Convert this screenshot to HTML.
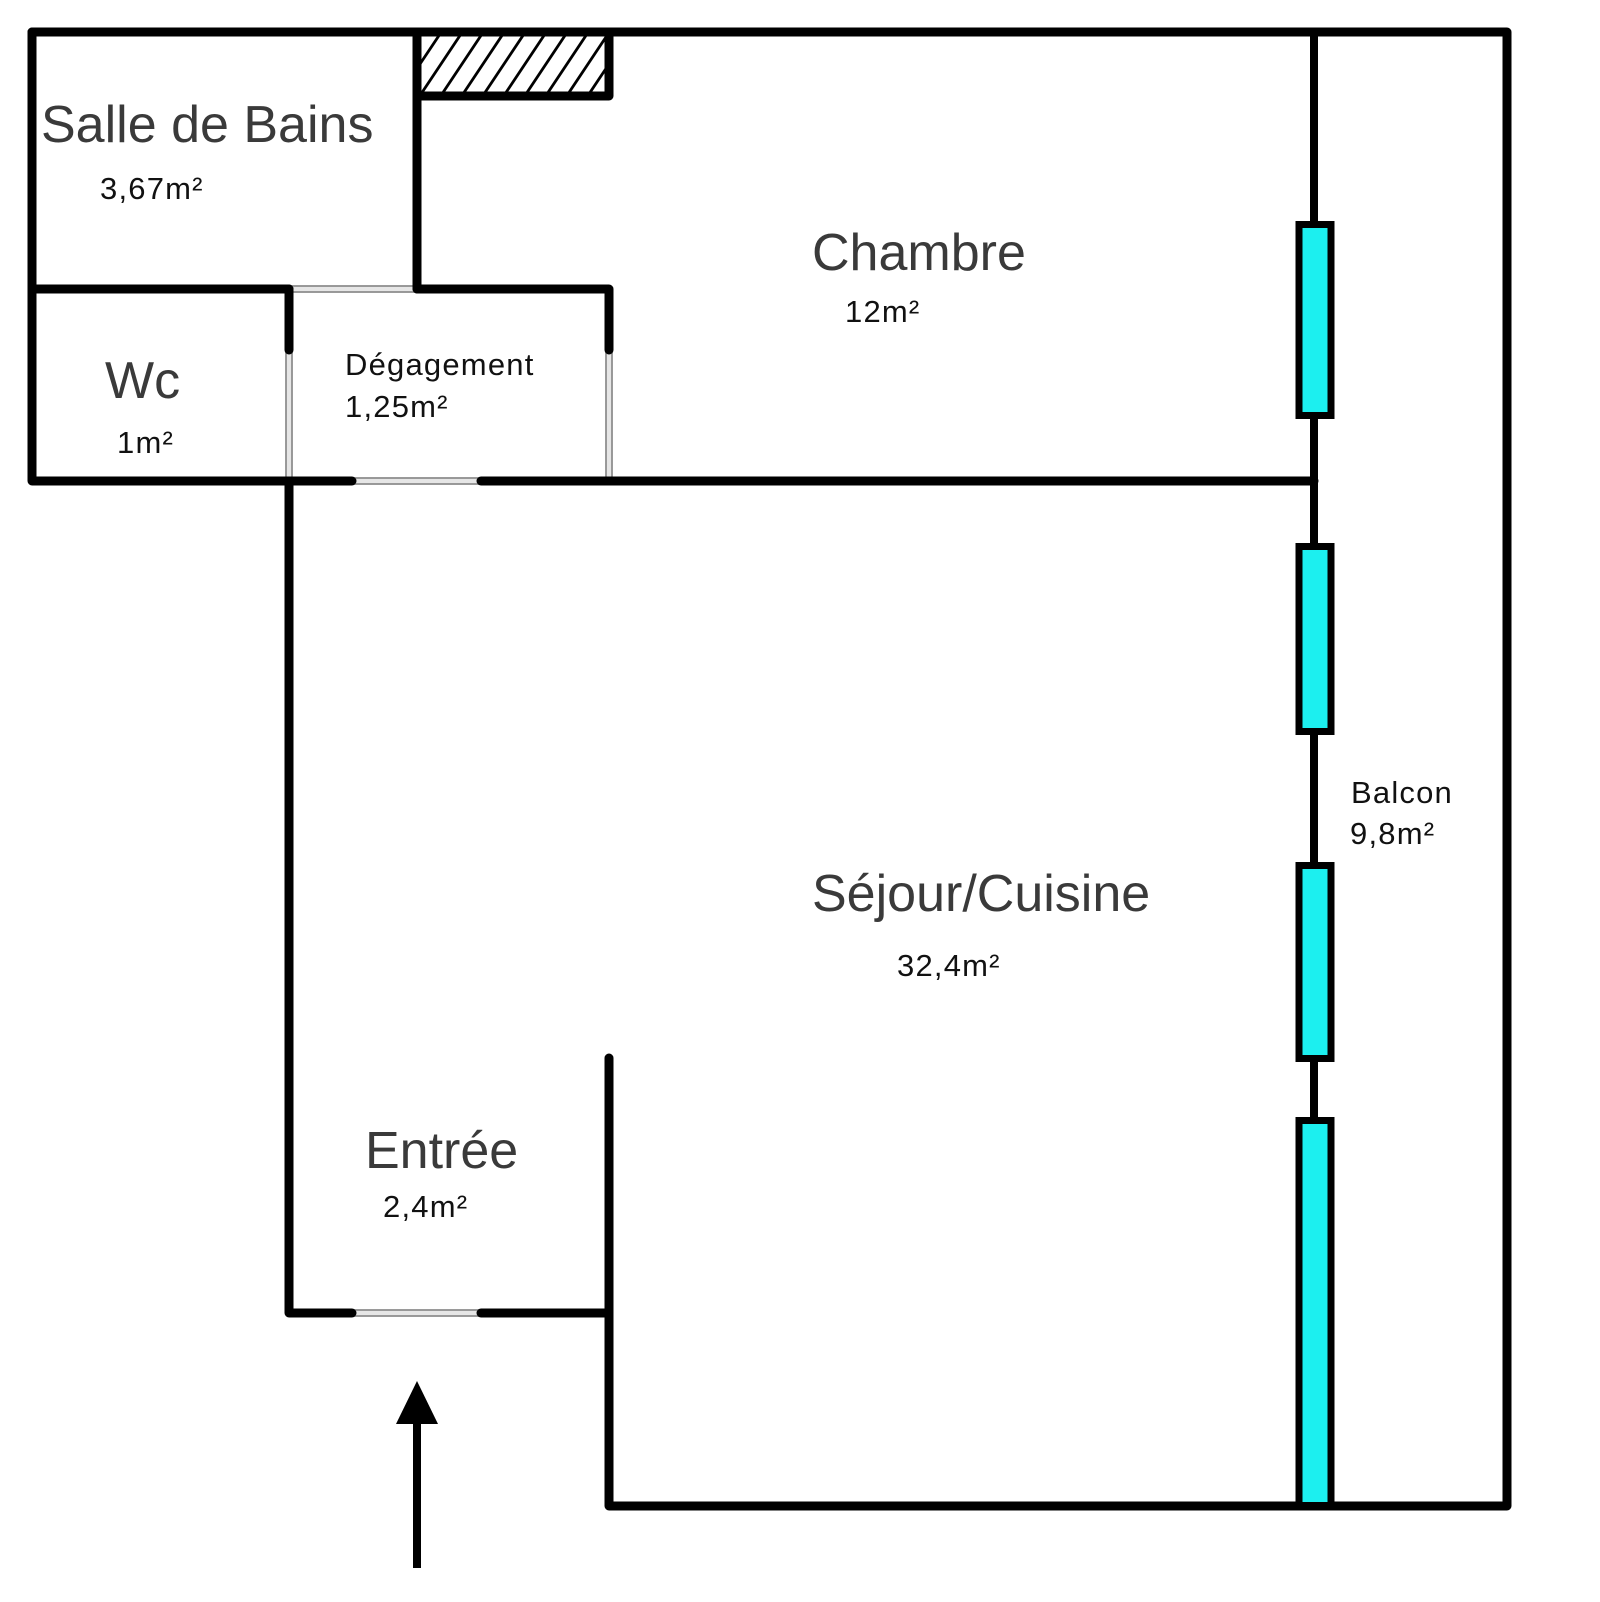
<!DOCTYPE html>
<html>
<head>
<meta charset="utf-8">
<style>
  html, body { margin:0; padding:0; background:#fff; }
  svg { display:block; }
  .big { font-family:"Liberation Sans", Arial, sans-serif; font-size:52px; fill:#3a3a3a; }
  .sm { font-family:"Liberation Sans", Arial, sans-serif; font-size:31px; fill:#111; letter-spacing:1.2px; }
</style>
</head>
<body>
<svg width="1600" height="1602" viewBox="0 0 1600 1602" xmlns="http://www.w3.org/2000/svg">
  <rect x="0" y="0" width="1600" height="1602" fill="#fff"/>
  <defs>
    <clipPath id="hc"><rect x="421.5" y="36.5" width="183" height="55"/></clipPath>
  </defs>

  <!-- hatched box -->
  <g clip-path="url(#hc)" stroke="#000" stroke-width="2.8">
    <line x1="358" y1="94" x2="398" y2="34"/>
    <line x1="379" y1="94" x2="419" y2="34"/>
    <line x1="400" y1="94" x2="440" y2="34"/>
    <line x1="421" y1="94" x2="461" y2="34"/>
    <line x1="442" y1="94" x2="482" y2="34"/>
    <line x1="463" y1="94" x2="503" y2="34"/>
    <line x1="484" y1="94" x2="524" y2="34"/>
    <line x1="505" y1="94" x2="545" y2="34"/>
    <line x1="526" y1="94" x2="566" y2="34"/>
    <line x1="547" y1="94" x2="587" y2="34"/>
    <line x1="568" y1="94" x2="608" y2="34"/>
    <line x1="589" y1="94" x2="629" y2="34"/>
  </g>

  <!-- door openings (gray) -->
  <g fill="#e6e6e6" stroke="#8f8f8f" stroke-width="1.8">
    <rect x="289" y="286" width="128" height="6"/>
    <rect x="352" y="478" width="129" height="6"/>
    <rect x="352" y="1310" width="129" height="6"/>
    <rect x="286" y="350" width="6" height="131"/>
    <rect x="606" y="350" width="6" height="131"/>
  </g>

  <!-- walls -->
  <g fill="none" stroke="#000" stroke-width="9" stroke-linejoin="round" stroke-linecap="round">
    <path d="M32,32 H1507 V1506 H609 V1058"/>
    <path d="M32,32 V481 H352"/>
    <path d="M481,481 H1314"/>
    <path d="M289,481 V1313 H352"/>
    <path d="M481,1313 H609"/>
    <path d="M32,289 H289"/>
    <path d="M289,289 V350"/>
    <path d="M417,32 V289"/>
    <path d="M417,289 H609 V350"/>
    <path d="M417,96 H609 V32"/>
    <path d="M1314,32 V1506" stroke-width="8"/>
  </g>

  <!-- windows -->
  <g fill="#1cefef" stroke="#000" stroke-width="7">
    <rect x="1299" y="224.5" width="32" height="191"/>
    <rect x="1299" y="546.5" width="32" height="185"/>
    <rect x="1299" y="865.5" width="32" height="193"/>
    <rect x="1299" y="1120.5" width="32" height="385"/>
  </g>

  <!-- entry arrow -->
  <line x1="417" y1="1418" x2="417" y2="1568" stroke="#000" stroke-width="8"/>
  <polygon points="417,1381 396,1424 438,1424" fill="#000"/>

  <!-- labels -->
  <text class="big" x="41" y="142">Salle de Bains</text>
  <text class="sm" x="100" y="199">3,67m²</text>
  <text class="big" x="812" y="270">Chambre</text>
  <text class="sm" x="845" y="322">12m²</text>
  <text class="big" x="105" y="398">Wc</text>
  <text class="sm" x="117" y="453">1m²</text>
  <text class="sm" x="345" y="375">Dégagement</text>
  <text class="sm" x="345" y="417">1,25m²</text>
  <text class="big" x="812" y="911">Séjour/Cuisine</text>
  <text class="sm" x="897" y="976">32,4m²</text>
  <text class="sm" x="1351" y="803">Balcon</text>
  <text class="sm" x="1350" y="844">9,8m²</text>
  <text class="big" x="365" y="1168">Entrée</text>
  <text class="sm" x="383" y="1217">2,4m²</text>
</svg>
</body>
</html>
